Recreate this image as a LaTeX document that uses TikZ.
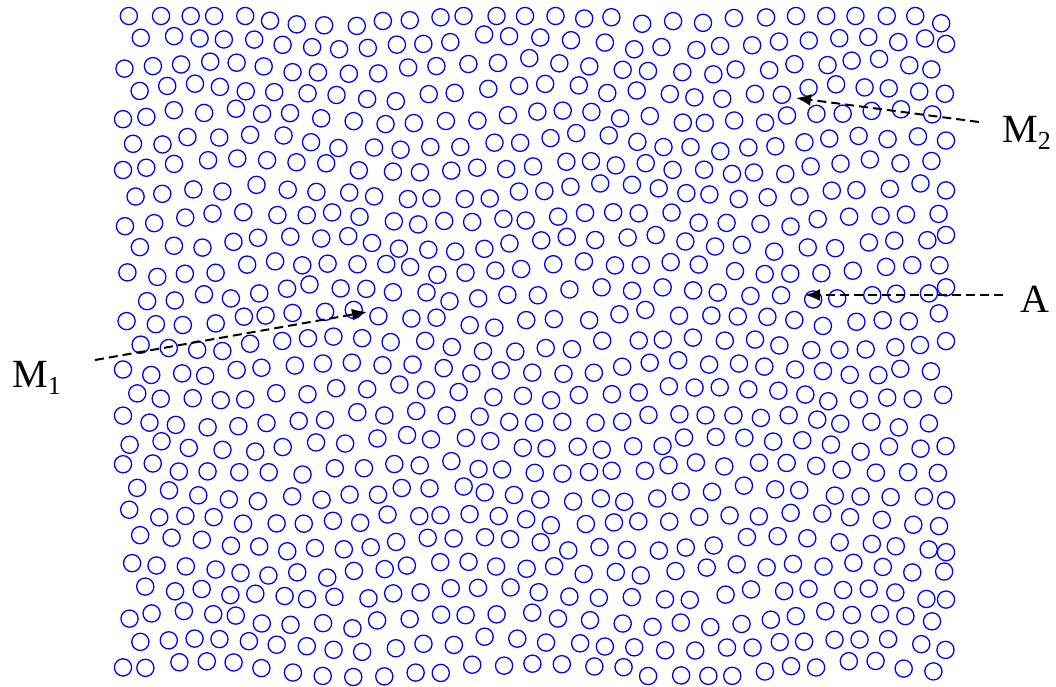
\documentclass[tikz,border=0pt]{standalone}
\usepackage{fontspec}
\setmainfont{Liberation Serif}
\usetikzlibrary{arrows.meta}
\newcommand{\lbl}[2]{{\fontsize{40}{40}\selectfont #1\raisebox{-7pt}{\fontsize{26}{26}\selectfont #2}}}
\tikzset{
  grain/.style={draw=blue, line width=1.3pt},
  pointer/.style={draw=black, line width=2pt, dash pattern=on 9pt off 5pt,
    -{Latex[length=15pt,width=12pt]}},
  tag/.style={inner sep=0pt, anchor=base west, font=\fontsize{40}{40}\selectfont}
}
\begin{document}
\begin{tikzpicture}[x=1pt,y=-1pt]
\useasboundingbox (0,0) rectangle (1056,686);
\pgfmathsetseed{271}
\foreach \r in {0,...,26}{
  \foreach \c in {0,...,28}{
    \pgfmathsetmacro\bx{124 + \c*29 + mod(\r,2)*14.5}
    \pgfmathsetmacro\by{17 + \r*25.1}
    \pgfmathsetmacro\px{\bx + 6*sin(1.3*\by + 0.5*\bx) + 3.5*rand}
    \pgfmathsetmacro\py{\by + 6*cos(1.1*\bx - 0.6*\by) + 3.5*rand}
    \pgfmathsetmacro\px{max(123,min(946,\px))}
    \pgfmathsetmacro\py{max(16,min(677,\py))}
    \draw[grain] (\px,\py) circle[radius=8.6pt];
  }
}
\coordinate (m1s) at (95,360);
\coordinate (m1t) at (367,312);
\coordinate (m2s) at (979,122);
\coordinate (m2t) at (796,98);
\coordinate (as) at (1003,295);
\coordinate (at) at (805,295);
\draw[pointer] (m1s) -- (m1t);
\draw[pointer] (m2s) -- (m2t);
\draw[pointer] (as) -- (at);
\node[tag] (M1) at (12,387) {\lbl{M}{1}};
\node[tag] (M2) at (1002,142) {\lbl{M}{2}};
\node[tag] (A) at (1020,312) {A};
\end{tikzpicture}
\end{document}
